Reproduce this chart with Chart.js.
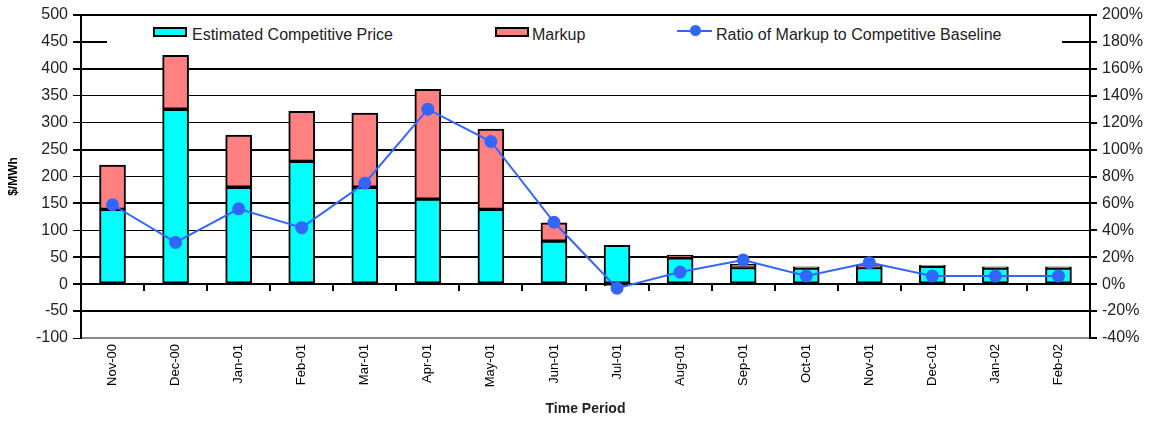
<!DOCTYPE html>
<html lang="en">
<head>
  <meta charset="UTF-8" />
  <title>Competitive Price and Markup</title>
  <script src="https://cdn.jsdelivr.net/npm/chart.js"></script>
  <style>
    body { margin: 0; background: #fff; font-family: "Liberation Sans", Arial, sans-serif; }
    #wrap { position: relative; width: 1154px; height: 422px; }
    /* legend sits inside the plot, on a white box like the original */
    #legend { position: absolute; left: 107px; top: 17px; width: 955px; height: 33px; background: #fff; }
    .swatch { position: absolute; width: 34px; height: 10px; box-sizing: border-box; border: 2px solid #000; }
    .lbl { position: absolute; font-size: 16px; line-height: 18px; color: #222; white-space: nowrap; }
    .lineSw { position: absolute; width: 35px; height: 2px; background: #3366ff; }
    .dot { position: absolute; width: 11px; height: 11px; border-radius: 50%; background: #3366ff; }
  </style>
</head>
<body>
  <div id="wrap">
    <canvas id="chart"></canvas>
    <div id="legend">
      <div class="swatch" style="left:46px; top:10px; background:#00ffff;"></div>
      <div class="lbl" style="left:85px; top:9px;">Estimated Competitive Price</div>
      <div class="swatch" style="left:388px; top:10px; background:#ff8080;"></div>
      <div class="lbl" style="left:425px; top:9px;">Markup</div>
      <div class="lineSw" style="left:570px; top:13px;"></div>
      <div class="dot" style="left:583px; top:8px;"></div>
      <div class="lbl" style="left:609px; top:9px;">Ratio of Markup to Competitive Baseline</div>
    </div>
  </div>

  <script>
    // values
    const periods = ['Nov-00', 'Dec-00', 'Jan-01', 'Feb-01', 'Mar-01', 'Apr-01', 'May-01', 'Jun-01',
                     'Jul-01', 'Aug-01', 'Sep-01', 'Oct-01', 'Nov-01', 'Dec-01', 'Jan-02', 'Feb-02'];
    const competitive = [139, 325, 180, 228, 180, 158, 139, 80, 72, 49, 31, 30, 31, 33, 30, 30];
    const markup = [82, 100, 97, 93, 138, 204, 149, 34, -3, 5, 6, 2, 5, 2, 2, 2];
    const ratio = [59, 31, 56, 42, 75, 130, 106, 46, -3, 9, 18, 6, 16, 6, 6, 6];

    const thickLines = [500, 450, 400, 250, 150, 50, 0, -50];

    const ctx = document.getElementById('chart').getContext('2d');
    Chart.defaults.font.family = '"Liberation Sans", Arial, sans-serif';
    Chart.defaults.color = '#222';

    new Chart(ctx, {
      type: 'bar',
      data: {
        labels: periods,
        datasets: [
          {
            type: 'line',
            label: 'Ratio of Markup to Competitive Baseline',
            data: ratio,
            yAxisID: 'y1',
            borderColor: '#3366ff',
            backgroundColor: '#3366ff',
            borderWidth: 2,
            pointRadius: 5.5,
            tension: 0,
            order: 0
          },
          {
            label: 'Estimated Competitive Price',
            data: competitive,
            backgroundColor: '#00ffff',
            borderColor: '#000',
            borderWidth: 2,
            borderSkipped: false,
            barThickness: 26,
            stack: 's',
            order: 1
          },
          {
            label: 'Markup',
            data: markup,
            backgroundColor: '#ff8080',
            borderColor: '#000',
            borderWidth: 2,
            borderSkipped: false,
            barThickness: 26,
            stack: 's',
            order: 2
          }
        ]
      },
      options: {
        responsive: true,
        maintainAspectRatio: false,
        animation: false,
        layout: { padding: { top: 15, left: 0, right: 0, bottom: 0 } },
        plugins: {
          legend: { display: false },
          tooltip: { enabled: false }
        },
        scales: {
          x: {
            type: 'category',
            stacked: true,
            offset: true,
            grid: { display: true, offset: true, drawOnChartArea: false, drawTicks: false },
            border: { color: '#888', width: 2 },
            ticks: { color: '#000', font: { size: 13 }, minRotation: 90, maxRotation: 90, padding: 6, autoSkip: false },
            title: { display: true, text: 'Time Period', color: '#222', font: { size: 14, weight: 'bold' }, padding: { top: 2, bottom: 4 } },
            afterFit: (s) => { s.height = 84; }
          },
          // category axis crossing at zero, only for the border and the tick marks
          x2: {
            type: 'category',
            position: { y: 0 },
            offset: true,
            grid: { display: true, offset: true, drawOnChartArea: false, drawTicks: true, tickLength: 6, color: '#000', lineWidth: 2 },
            border: { color: '#000', width: 2 },
            ticks: { display: false }
          },
          y: {
            position: 'left',
            stacked: true,
            min: -100,
            max: 500,
            ticks: { stepSize: 50, font: { size: 16 }, padding: 5 },
            grid: {
              color: '#000',
              lineWidth: (c) => thickLines.includes(c.tick.value) ? 2 : 1,
              tickLength: 8
            },
            border: { color: '#000', width: 2 },
            title: { display: true, text: '$/MWh', color: '#000', font: { size: 12, weight: 'bold' }, padding: { top: 6, bottom: 0 } },
            afterFit: (s) => { s.width = 81; }
          },
          y1: {
            position: 'right',
            min: -40,
            max: 200,
            ticks: { stepSize: 20, font: { size: 16 }, padding: 5, callback: (v) => v + '%' },
            grid: { drawOnChartArea: false, color: '#000', lineWidth: 2, tickLength: 7 },
            border: { color: '#000', width: 2 },
            afterFit: (s) => { s.width = 64; }
          }
        }
      }
    });
  </script>
</body>
</html>
